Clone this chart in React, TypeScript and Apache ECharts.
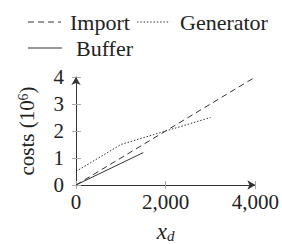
import React, { useEffect, useRef } from "react";
import * as echarts from "echarts";

const importX = [0, 1000, 2000, 3000, 4000];
const importY = [0, 1.0, 2.0, 3.0, 4.0];
const generatorX = [0, 1000, 2000, 3000];
const generatorY = [0.5, 1.5, 2.0, 2.5];
const bufferX = [0, 500, 1000, 1500];
const bufferY = [0, 0.4, 0.8, 1.2];
const xTicks = [0, 2000, 4000];
const yTicks = [0, 1, 2, 3, 4];

const FONT = "Liberation Serif";
const INK = "#333";
const TICK = "#aaa";

const pairs = (xs: number[], ys: number[]) => xs.map((x, i) => [x, ys[i]]);

export default function App() {
  const ref = useRef<HTMLDivElement>(null);
  useEffect(() => {
    if (!ref.current) return;
    const chart = echarts.init(ref.current, null, { renderer: "svg" });
    const axisText = { fontFamily: FONT, fontSize: 21, color: "#222" };
    const xBase = {
      type: "value",
      min: xTicks[0],
      max: xTicks[xTicks.length - 1],
      interval: 2000,
      splitLine: { show: false },
    };
    const yBase = {
      type: "value",
      min: yTicks[0],
      max: yTicks[yTicks.length - 1],
      interval: 1,
      splitLine: { show: false },
    };
    chart.setOption({
      animation: false,
      grid: { left: 76, top: 77, width: 184, height: 112, containLabel: false },
      xAxis: [
        {
          ...xBase,
          name: "{x|x}{d|d}",
          nameLocation: "middle",
          nameGap: 34,
          nameTextStyle: {
            rich: {
              x: { fontFamily: FONT, fontSize: 23, fontStyle: "italic", color: "#222" },
              d: { fontFamily: FONT, fontSize: 15, fontStyle: "italic", color: "#222", verticalAlign: "bottom", padding: [9, 0, 0, 0] },
            },
          },
          axisLine: { show: true, lineStyle: { color: INK, width: 1 }, symbol: ["none", "arrow"], symbolSize: [7, 8] },
          axisTick: { show: true, inside: false, length: 4, lineStyle: { color: TICK } },
          axisLabel: {
            ...axisText,
            margin: 6,
            formatter: (v: number) => v.toLocaleString("en-US"),
          },
        },
        {
          ...xBase,
          position: "bottom",
          axisLine: { show: false },
          axisTick: { show: true, inside: true, length: 4, lineStyle: { color: TICK } },
          axisLabel: { show: false },
        },
      ],
      yAxis: [
        {
          ...yBase,
          name: "{a|costs (10}{s|6}{a|)}",
          nameLocation: "middle",
          nameGap: 38,
          nameRotate: 90,
          nameTextStyle: {
            rich: {
              a: { fontFamily: FONT, fontSize: 21, color: "#222" },
              s: { fontFamily: FONT, fontSize: 14, color: "#222", verticalAlign: "top", padding: [0, 0, 8, 0] },
            },
          },
          axisLine: { show: true, lineStyle: { color: INK, width: 1 }, symbol: ["none", "arrow"], symbolSize: [7, 8] },
          axisTick: { show: true, inside: false, length: 4, lineStyle: { color: TICK } },
          axisLabel: { ...axisText, margin: 12 },
        },
        {
          ...yBase,
          position: "left",
          axisLine: { show: false },
          axisTick: { show: true, inside: true, length: 5, lineStyle: { color: TICK } },
          axisLabel: { show: false },
        },
      ],
      series: [
        {
          name: "Import",
          type: "line",
          data: pairs(importX, importY),
          showSymbol: false,
          lineStyle: { color: INK, width: 1, type: [6, 4] },
        },
        {
          name: "Generator",
          type: "line",
          data: pairs(generatorX, generatorY),
          showSymbol: false,
          lineStyle: { color: INK, width: 1, type: [1.5, 1.8] },
        },
        {
          name: "Buffer",
          type: "line",
          data: pairs(bufferX, bufferY),
          showSymbol: false,
          lineStyle: { color: INK, width: 1 },
        },
      ],
      graphic: [
        { type: "line", shape: { x1: 28, y1: 22, x2: 61, y2: 22 }, style: { stroke: INK, lineWidth: 1, lineDash: [6, 4] } },
        { type: "text", x: 70, y: 22, style: { text: "Import", font: `22px "${FONT}"`, fill: "#222", verticalAlign: "middle" } },
        { type: "line", shape: { x1: 137, y1: 22, x2: 170, y2: 22 }, style: { stroke: INK, lineWidth: 1, lineDash: [1.5, 1.8] } },
        { type: "text", x: 180, y: 22, style: { text: "Generator", font: `22px "${FONT}"`, fill: "#222", verticalAlign: "middle" } },
        { type: "line", shape: { x1: 28, y1: 48, x2: 62, y2: 48 }, style: { stroke: INK, lineWidth: 1 } },
        { type: "text", x: 76, y: 48, style: { text: "Buffer", font: `22px "${FONT}"`, fill: "#222", verticalAlign: "middle" } },
      ],
    });
    return () => chart.dispose();
  }, []);
  return <div ref={ref} style={{ width: 282, height: 244, position: "absolute", left: 0, top: 0 }} />;
}
